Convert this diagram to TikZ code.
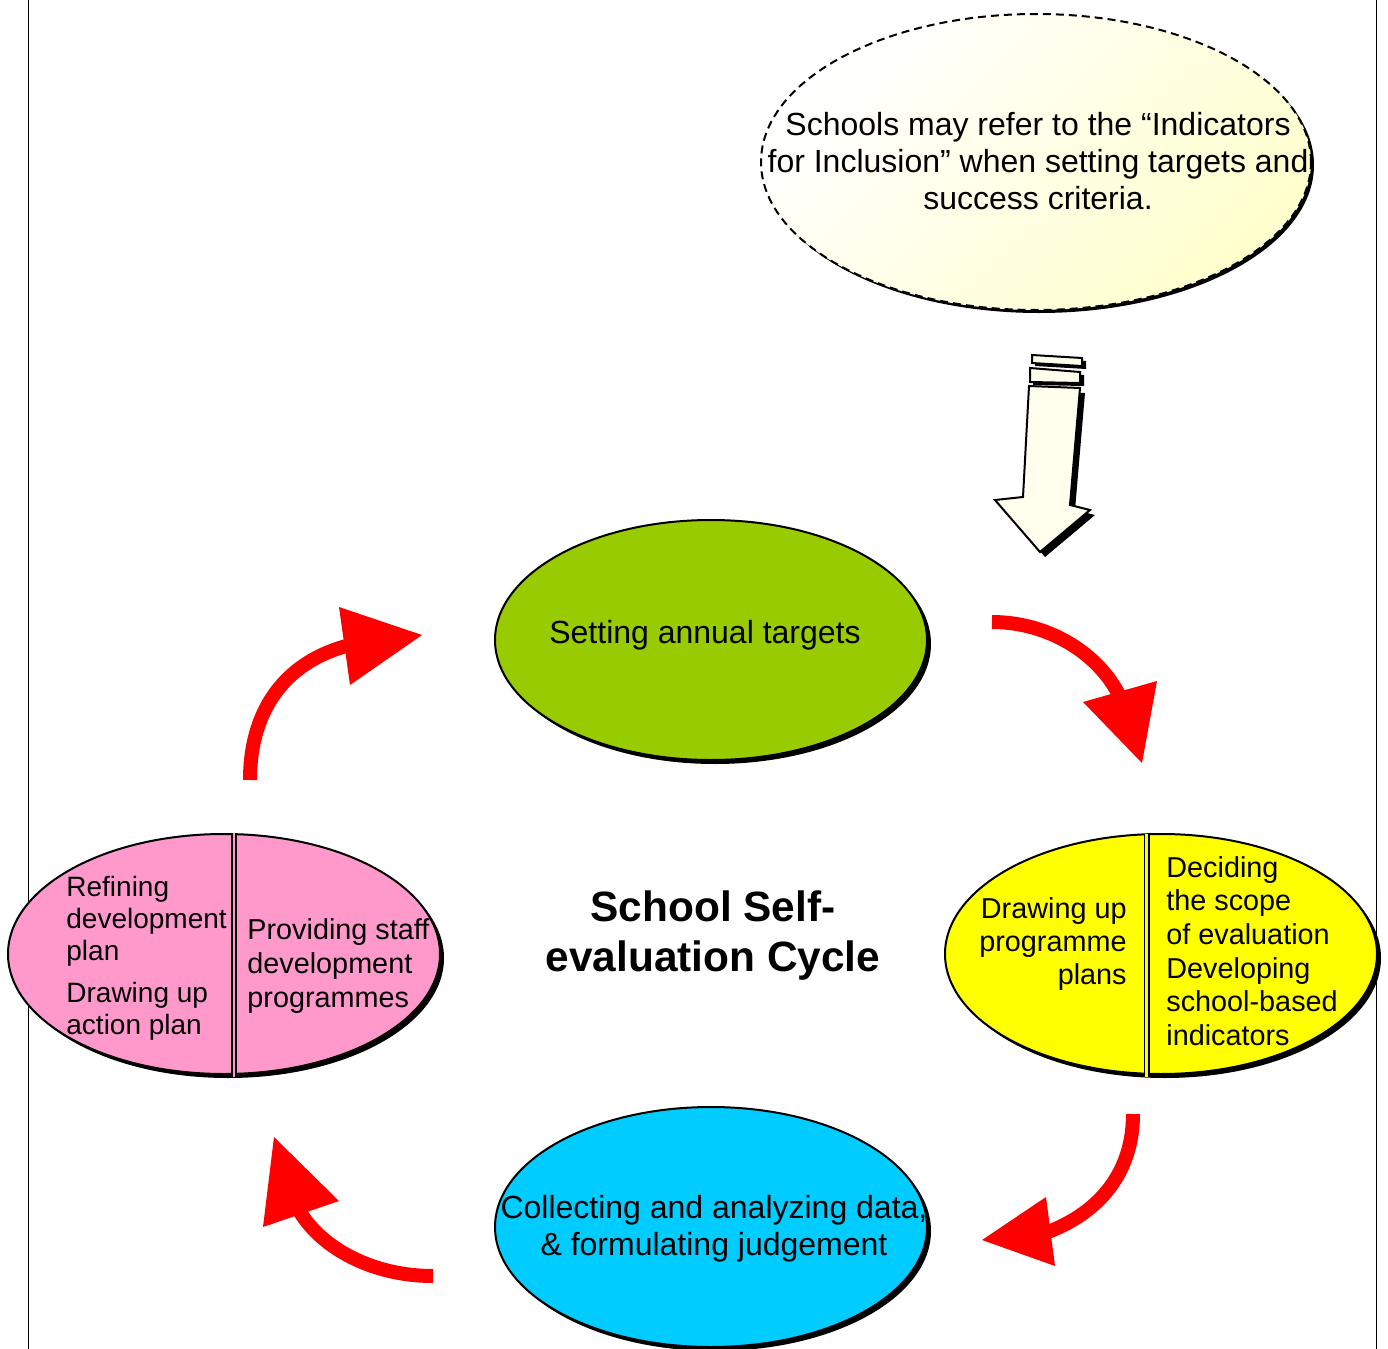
\documentclass[tikz,border=0pt]{standalone}
\usepackage{fontspec}
\setmainfont{Liberation Sans}
\usetikzlibrary{shapes.geometric,shadows,calc}
\definecolor{cgreen}{RGB}{153,204,0}
\definecolor{cyellow}{RGB}{255,255,0}
\definecolor{cpink}{RGB}{255,153,204}
\definecolor{cblue}{RGB}{0,204,255}
\definecolor{cream}{RGB}{255,255,205}
\definecolor{creamlight}{RGB}{255,255,238}
\definecolor{cred}{RGB}{255,0,0}
\begin{document}
\begin{tikzpicture}[x=0.5pt,y=-0.5pt,
  stage/.style={ellipse, draw=black, line width=1pt, inner sep=0pt,
    minimum width=216pt, minimum height=120pt,
    drop shadow={fill=black, opacity=1, shadow xshift=2pt, shadow yshift=-2pt}},
  bigtxt/.style={font=\fontsize{16}{18.5}\selectfont, inner sep=0pt, align=center},
  smalltxt/.style={font=\fontsize{14.4}{16.4}\selectfont, inner sep=0pt},
  divider/.style={draw=black, line width=0.8pt, double distance=1.4pt},
  redshaft/.style={draw=cred, line width=7pt},
  redhead/.style={fill=cred},
  pageline/.style={draw=black, line width=0.5pt}]
\useasboundingbox (0,0) rectangle (1388,1349);
\fill[white] (0,0) rectangle (1388,1349);
% page border lines
\coordinate (pl1) at (28.5,0); \coordinate (pl2) at (28.5,1349);
\coordinate (pr1) at (1376.5,0); \coordinate (pr2) at (1376.5,1349);
\draw[pageline] (pl1) -- (pl2);
\draw[pageline] (pr1) -- (pr2);

% info ellipse
\node[ellipse, draw=black, line width=1pt, dash pattern=on 4pt off 2.5pt, inner sep=0pt,
  minimum width=275pt, minimum height=148pt,
  drop shadow={fill=black, opacity=1, shadow xshift=1.5pt, shadow yshift=-1.5pt},
  shading=axis, left color=white, right color=cream, shading angle=45] (info) at (1036,162) {};
\node[bigtxt] (infotxt) at (1038,161) {Schools may refer to the “Indicators\\for Inclusion” when setting targets and\\success criteria.};

% block arrow
\fill[black] (1029,386) ++(5,5) -- (1085,393) -- (1075,510) -- (1095,515) -- (1045,557) -- (1000,505) -- (1028,502) -- cycle;
\draw[black, line width=1pt, fill=creamlight] (1029,386) -- (1080,388) -- (1070,505) -- (1090,510) -- (1040,552) -- (995,500) -- (1023,497) -- cycle;
\fill[black] (1035,358) -- (1086,361) -- (1086,369) -- (1035,366) -- cycle;
\draw[black, line width=1pt, fill=creamlight] (1032,355) -- (1082,358) -- (1082,366) -- (1032,363) -- cycle;
\fill[black] (1033,371) -- (1084,375) -- (1084,386) -- (1033,385) -- cycle;
\draw[black, line width=1pt, fill=creamlight] (1030,368) -- (1080,372) -- (1080,383) -- (1030,382) -- cycle;

% stages
\node[stage, fill=cgreen] (green) at (711,640) {};
\node[bigtxt] (greentxt) at (705,635) {Setting annual targets};

\node[stage, fill=cyellow] (yellow) at (1161,954) {};
\draw[divider, double=cyellow] ($(yellow.north)+(-14.5,1)$) -- ($(yellow.south)+(-14.5,2)$);
\node[smalltxt, align=right, anchor=east, font=\fontsize{14.4}{16.6}\selectfont] (yl) at (1127,944) {Drawing up\\programme\\plans};
\node[smalltxt, align=left, anchor=west, font=\fontsize{14.4}{16.8}\selectfont] (yr) at (1166,951) {Deciding\\the scope\\of evaluation\\Developing\\school-based\\indicators};

\node[stage, fill=cpink] (pink) at (224,954) {};
\draw[divider, double=cpink] ($(pink.north)+(10,0)$) -- ($(pink.south)+(10,2)$);
\node[smalltxt, align=left, anchor=west, font=\fontsize{14}{16}\selectfont] (pl) at (66,921) {Refining\\development\\plan};
\node[smalltxt, align=left, anchor=west, font=\fontsize{14}{16}\selectfont] (pl2t) at (66,1011) {Drawing up\\action plan};
\node[smalltxt, align=left, anchor=west, font=\fontsize{14.4}{17}\selectfont] (pr) at (247,966) {Providing staff\\development\\programmes};

\node[stage, fill=cblue] (blue) at (711,1227) {};
\node[bigtxt] (bluetxt) at (714,1229) {Collecting and analyzing data,\\\& formulating judgement};

% centre title
\node[font=\fontsize{21.2}{25}\selectfont\bfseries, align=center, inner sep=0pt] (title) at (713,936) {School Self-\\evaluation Cycle};

% red arrows
\coordinate (a1s) at (250,780); \coordinate (a1e) at (350,645);
\draw[redshaft] (a1s) .. controls (250,705) and (290,660) .. (a1e);
\fill[redhead] (339,607) -- (422,635) -- (350,685) -- cycle;

\coordinate (a2s) at (992,622); \coordinate (a2e) at (1120,697);
\draw[redshaft] (a2s) .. controls (1050,622) and (1100,655) .. (a2e);
\fill[redhead] (1083,702) -- (1157,681) -- (1142,763) -- cycle;

\coordinate (a3s) at (1133,1114); \coordinate (a3e) at (1048,1232);
\draw[redshaft] (a3s) .. controls (1133,1172) and (1100,1212) .. (a3e);
\fill[redhead] (1046,1197) -- (982,1240) -- (1055,1266) -- cycle;

\coordinate (a4s) at (433,1276); \coordinate (a4e) at (300,1212);
\draw[redshaft] (a4s) .. controls (372,1276) and (322,1248) .. (a4e);
\fill[redhead] (274,1137) -- (339,1201) -- (263,1227) -- cycle;
\end{tikzpicture}
\end{document}
